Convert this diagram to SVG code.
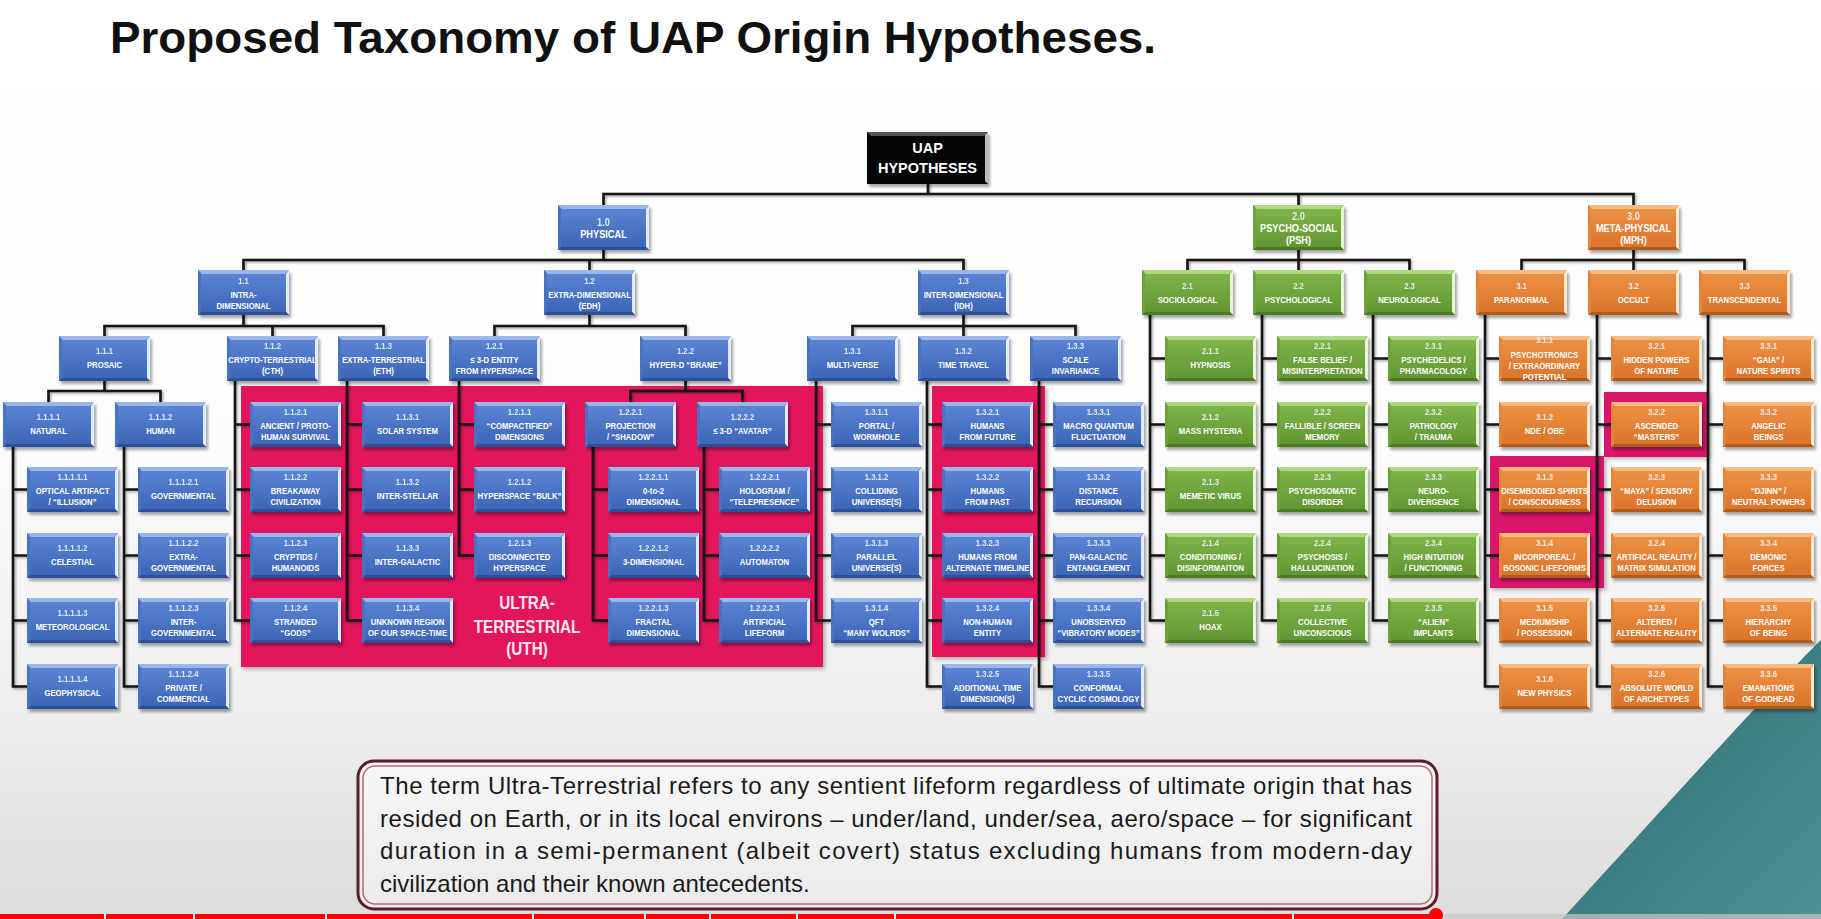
<svg xmlns="http://www.w3.org/2000/svg" xmlns:xlink="http://www.w3.org/1999/xlink" width="1821" height="919" viewBox="0 0 1821 919">
<defs>
<style>
.t{font-family:"Liberation Sans",Arial,sans-serif;font-weight:bold;font-size:9.2px;fill:#fff;text-anchor:middle}
.big{font-size:11px}
.k{fill:#f2f6ff;opacity:.88}
.wire{fill:none;stroke:#121212;stroke-width:2.6;stroke-linecap:square}
.pink{fill:#e3175d}
.pink2{fill:#d8166c}
.body{font-family:"Liberation Sans",Arial,sans-serif;font-size:24px;fill:#1a1a1a}
</style>
<linearGradient id="bgG" x1="0" y1="0" x2="0" y2="1">
<stop offset="0" stop-color="#ffffff"/><stop offset=".5" stop-color="#fcfcfc"/><stop offset=".8" stop-color="#ececec"/><stop offset="1" stop-color="#dcdcdc"/>
</linearGradient>
<linearGradient id="gBlue" x1="0" y1="0" x2="0" y2="1"><stop offset="0" stop-color="#5d87d6"/><stop offset="1" stop-color="#3b63b6"/></linearGradient>
<linearGradient id="gGreen" x1="0" y1="0" x2="0" y2="1"><stop offset="0" stop-color="#82b74c"/><stop offset="1" stop-color="#5e9430"/></linearGradient>
<linearGradient id="gOrange" x1="0" y1="0" x2="0" y2="1"><stop offset="0" stop-color="#ee9446"/><stop offset="1" stop-color="#da722a"/></linearGradient>
<linearGradient id="gTeal" x1="0" y1="0" x2="1" y2="1"><stop offset="0" stop-color="#2b6a73"/><stop offset="1" stop-color="#4f9197"/></linearGradient>
<linearGradient id="gNote" x1="0" y1="0" x2="0" y2="1"><stop offset="0" stop-color="#f7f7f7"/><stop offset="1" stop-color="#ebebeb"/></linearGradient>
<filter id="sh" x="-20%" y="-20%" width="140%" height="150%"><feGaussianBlur stdDeviation="1.5"/></filter>
<filter id="ds" x="-5%" y="-5%" width="110%" height="110%"><feDropShadow dx="1.5" dy="1.5" stdDeviation="1" flood-color="#000" flood-opacity=".35"/></filter>
<filter id="ds2" x="-5%" y="-5%" width="110%" height="110%"><feDropShadow dx="2" dy="2" stdDeviation="2" flood-color="#000" flood-opacity=".3"/></filter>
<!-- bevelled box faces, 91 x 45 -->
<g id="bb">
<rect x="2" y="3" width="91" height="45" fill="#000" opacity=".35" filter="url(#sh)"/>
<rect width="91" height="45" fill="url(#gBlue)"/>
<path d="M0 0H91L87 4H4Z" fill="#a4bff0" opacity=".85"/>
<path d="M91 0V45L88 42V4Z" fill="#e2ecfd"/>
<path d="M0 45H91L88 42H3Z" fill="#2d4f98"/>
<path d="M0 0V45L3 42V4Z" fill="#4a72c2"/>
</g>
<g id="bg">
<rect x="2" y="3" width="91" height="45" fill="#000" opacity=".35" filter="url(#sh)"/>
<rect width="91" height="45" fill="url(#gGreen)"/>
<path d="M0 0H91L87 4H4Z" fill="#b5da8a" opacity=".9"/>
<path d="M91 0V45L88 42V4Z" fill="#e8f6d4"/>
<path d="M0 45H91L88 42H3Z" fill="#4a7a22"/>
<path d="M0 0V45L3 42V4Z" fill="#6da23a"/>
</g>
<g id="bo">
<rect x="2" y="3" width="91" height="45" fill="#000" opacity=".35" filter="url(#sh)"/>
<rect width="91" height="45" fill="url(#gOrange)"/>
<path d="M0 0H91L87 4H4Z" fill="#f8c08a" opacity=".9"/>
<path d="M91 0V45L88 42V4Z" fill="#fde8cc"/>
<path d="M0 45H91L88 42H3Z" fill="#b05a1c"/>
<path d="M0 0V45L3 42V4Z" fill="#e3843a"/>
</g>
</defs>

<!-- page -->
<rect width="1821" height="919" fill="url(#bgG)"/>
<path d="M1821 640C1770 690 1680 790 1562 919H1821Z" fill="url(#gTeal)"/>

<text x="110" y="53" textLength="1046" lengthAdjust="spacingAndGlyphs" style="font-family:'Liberation Sans',Arial,sans-serif;font-weight:bold;font-size:44px;fill:#111">Proposed Taxonomy of UAP Origin Hypotheses.</text>

<!-- highlighted groupings -->
<g id="groups" filter="url(#ds2)">
<rect class="pink" x="241" y="386" width="582" height="281"/>
<rect class="pink" x="932" y="386" width="113" height="271"/>
<rect class="pink2" x="1604" y="392" width="104" height="65"/>
<rect class="pink2" x="1490" y="456" width="114" height="132"/>
</g>
<text transform="translate(527,0) scale(.87,1)" style="font-family:'Liberation Sans',Arial,sans-serif;font-weight:bold;font-size:17.5px;fill:#fde6ee;text-anchor:middle"><tspan x="0" y="609.5">ULTRA-</tspan><tspan x="0" y="633.5">TERRESTRIAL</tspan><tspan x="0" y="655.5">(UTH)</tspan></text>

<!-- connectors -->
<g id="connectors" filter="url(#ds)">
<path class="wire" d="M928 184V194M603.5 194H1633.5M603.5 194V205M1298.5 194V205M1633.5 194V205
M603.5 250V260M243.5 260H963.5M243.5 260V270M589.5 260V270M963.5 260V270
M1298.5 250V260M1187.5 260H1409.5M1187.5 260V270M1298.5 260V270M1409.5 260V270
M1633.5 250V260M1521.5 260H1744.5M1521.5 260V270M1633.5 260V270M1744.5 260V270
M243.5 315V326M104.5 326H383.5M104.5 326V336M272.5 326V336M383.5 326V336
M589.5 315V326M494.5 326H685.5M494.5 326V336M685.5 326V336
M963.5 315V326M852.5 326H1075.5M852.5 326V336M963.5 326V336M1075.5 326V336
M104.5 381V391M48.5 391H160.5M48.5 391V402M160.5 391V402
M685.5 381V391M630.5 391H742.5M630.5 391V402M742.5 391V402"/>
<path class="wire" d="M13 447V686.5M13 489.5H27M13 555.5H27M13 620.5H27M13 686.5H27
M124 447V686.5M124 489.5H138M124 555.5H138M124 620.5H138M124 686.5H138
M235 381V620.5M235 424.5H250M235 489.5H250M235 555.5H250M235 620.5H250
M347 381V620.5M347 424.5H362M347 489.5H362M347 555.5H362M347 620.5H362
M459 381V555.5M459 424.5H474M459 489.5H474M459 555.5H474
M593 447V620.5M593 489.5H608M593 555.5H608M593 620.5H608
M704 447V620.5M704 489.5H719M704 555.5H719M704 620.5H719
M816 381V620.5M816 424.5H831M816 489.5H831M816 555.5H831M816 620.5H831
M927 381V686.5M927 424.5H942M927 489.5H942M927 555.5H942M927 620.5H942M927 686.5H942
M1039 381V686.5M1039 424.5H1053M1039 489.5H1053M1039 555.5H1053M1039 620.5H1053M1039 686.5H1053
M1150 315V620.5M1150 358.5H1165M1150 424.5H1165M1150 489.5H1165M1150 555.5H1165M1150 620.5H1165
M1262 315V620.5M1262 358.5H1277M1262 424.5H1277M1262 489.5H1277M1262 555.5H1277M1262 620.5H1277
M1373 315V620.5M1373 358.5H1388M1373 424.5H1388M1373 489.5H1388M1373 555.5H1388M1373 620.5H1388
M1485 315V686.5M1485 358.5H1499M1485 424.5H1499M1485 489.5H1499M1485 555.5H1499M1485 620.5H1499M1485 686.5H1499
M1597 315V686.5M1597 358.5H1611M1597 424.5H1611M1597 489.5H1611M1597 555.5H1611M1597 620.5H1611M1597 686.5H1611
M1708 315V686.5M1708 358.5H1723M1708 424.5H1723M1708 489.5H1723M1708 555.5H1723M1708 620.5H1723M1708 686.5H1723"/>
</g>

<!-- root -->
<g id="uap">
<rect x="869" y="135" width="121" height="52" fill="#000" opacity=".35" filter="url(#sh)"/>
<rect x="867" y="132" width="121" height="52" fill="#050505"/>
<path d="M867 132H988L984 136H871Z" fill="#555"/>
<path d="M988 132V184L985 181V135Z" fill="#bbb"/>
<text x="927.5" y="153" style="font-family:'Liberation Sans',Arial,sans-serif;font-weight:bold;font-size:14.5px;fill:#fff;text-anchor:middle">UAP</text>
<text x="927.5" y="173" style="font-family:'Liberation Sans',Arial,sans-serif;font-weight:bold;font-size:14.5px;fill:#fff;text-anchor:middle">HYPOTHESES</text>
</g>

<!-- level 1 -->
<g id="n1"><use href="#bb" x="558" y="205"/><text class="t big" transform="translate(603.5,205) scale(.84,1)"><tspan class="k" x="0" y="21">1.0</tspan><tspan x="0" y="33">PHYSICAL</tspan></text></g>
<g id="n2"><use href="#bg" x="1253" y="205"/><text class="t big" transform="translate(1298.5,205) scale(.84,1)"><tspan class="k" x="0" y="15">2.0</tspan><tspan x="0" y="27">PSYCHO-SOCIAL</tspan><tspan x="0" y="39">(PSH)</tspan></text></g>
<g id="n3"><use href="#bo" x="1588" y="205"/><text class="t big" transform="translate(1633.5,205) scale(.84,1)"><tspan class="k" x="0" y="15">3.0</tspan><tspan x="0" y="27">META-PHYSICAL</tspan><tspan x="0" y="39">(MPH)</tspan></text></g>

<!-- level 2 -->
<g id="n1-1"><use href="#bb" x="198" y="270"/><text class="t" transform="translate(243.5,270) scale(.84,1)"><tspan class="k" x="0" y="14">1.1</tspan><tspan x="0" y="28">INTRA-</tspan><tspan x="0" y="39">DIMENSIONAL</tspan></text></g>
<g id="n1-2"><use href="#bb" x="544" y="270"/><text class="t" transform="translate(589.5,270) scale(.84,1)"><tspan class="k" x="0" y="14">1.2</tspan><tspan x="0" y="28">EXTRA-DIMENSIONAL</tspan><tspan x="0" y="39">(EDH)</tspan></text></g>
<g id="n1-3"><use href="#bb" x="918" y="270"/><text class="t" transform="translate(963.5,270) scale(.84,1)"><tspan class="k" x="0" y="14">1.3</tspan><tspan x="0" y="28">INTER-DIMENSIONAL</tspan><tspan x="0" y="39">(IDH)</tspan></text></g>
<g id="n2-1"><use href="#bg" x="1142" y="270"/><text class="t" transform="translate(1187.5,270) scale(.84,1)"><tspan class="k" x="0" y="19">2.1</tspan><tspan x="0" y="33">SOCIOLOGICAL</tspan></text></g>
<g id="n2-2"><use href="#bg" x="1253" y="270"/><text class="t" transform="translate(1298.5,270) scale(.84,1)"><tspan class="k" x="0" y="19">2.2</tspan><tspan x="0" y="33">PSYCHOLOGICAL</tspan></text></g>
<g id="n2-3"><use href="#bg" x="1364" y="270"/><text class="t" transform="translate(1409.5,270) scale(.84,1)"><tspan class="k" x="0" y="19">2.3</tspan><tspan x="0" y="33">NEUROLOGICAL</tspan></text></g>
<g id="n3-1"><use href="#bo" x="1476" y="270"/><text class="t" transform="translate(1521.5,270) scale(.84,1)"><tspan class="k" x="0" y="19">3.1</tspan><tspan x="0" y="33">PARANORMAL</tspan></text></g>
<g id="n3-2"><use href="#bo" x="1588" y="270"/><text class="t" transform="translate(1633.5,270) scale(.84,1)"><tspan class="k" x="0" y="19">3.2</tspan><tspan x="0" y="33">OCCULT</tspan></text></g>
<g id="n3-3"><use href="#bo" x="1699" y="270"/><text class="t" transform="translate(1744.5,270) scale(.84,1)"><tspan class="k" x="0" y="19">3.3</tspan><tspan x="0" y="33">TRANSCENDENTAL</tspan></text></g>

<!-- level 3 -->
<g id="n1-1-1"><use href="#bb" x="59" y="336"/><text class="t" transform="translate(104.5,336) scale(.84,1)"><tspan class="k" x="0" y="18.3">1.1.1</tspan><tspan x="0" y="32.3">PROSAIC</tspan></text></g>
<g id="n1-1-2"><use href="#bb" x="227" y="336"/><text class="t" transform="translate(272.5,336) scale(.84,1)"><tspan class="k" x="0" y="13">1.1.2</tspan><tspan x="0" y="27.5">CRYPTO-TERRESTRIAL</tspan><tspan x="0" y="38.5">(CTH)</tspan></text></g>
<g id="n1-1-3"><use href="#bb" x="338" y="336"/><text class="t" transform="translate(383.5,336) scale(.84,1)"><tspan class="k" x="0" y="13">1.1.3</tspan><tspan x="0" y="27.5">EXTRA-TERRESTRIAL</tspan><tspan x="0" y="38.5">(ETH)</tspan></text></g>
<g id="n1-2-1"><use href="#bb" x="449" y="336"/><text class="t" transform="translate(494.5,336) scale(.84,1)"><tspan class="k" x="0" y="13">1.2.1</tspan><tspan x="0" y="27.5">≤ 3-D ENTITY</tspan><tspan x="0" y="38.5">FROM HYPERSPACE</tspan></text></g>
<g id="n1-2-2"><use href="#bb" x="640" y="336"/><text class="t" transform="translate(685.5,336) scale(.84,1)"><tspan class="k" x="0" y="18.3">1.2.2</tspan><tspan x="0" y="32.3">HYPER-D “BRANE”</tspan></text></g>
<g id="n1-3-1"><use href="#bb" x="807" y="336"/><text class="t" transform="translate(852.5,336) scale(.84,1)"><tspan class="k" x="0" y="18.3">1.3.1</tspan><tspan x="0" y="32.3">MULTI-VERSE</tspan></text></g>
<g id="n1-3-2"><use href="#bb" x="918" y="336"/><text class="t" transform="translate(963.5,336) scale(.84,1)"><tspan class="k" x="0" y="18.3">1.3.2</tspan><tspan x="0" y="32.3">TIME TRAVEL</tspan></text></g>
<g id="n1-3-3"><use href="#bb" x="1030" y="336"/><text class="t" transform="translate(1075.5,336) scale(.84,1)"><tspan class="k" x="0" y="13">1.3.3</tspan><tspan x="0" y="27.5">SCALE</tspan><tspan x="0" y="38.5">INVARIANCE</tspan></text></g>
<g id="n2-1-1"><use href="#bg" x="1165" y="336"/><text class="t" transform="translate(1210.5,336) scale(.84,1)"><tspan class="k" x="0" y="18.3">2.1.1</tspan><tspan x="0" y="32.3">HYPNOSIS</tspan></text></g>
<g id="n2-2-1"><use href="#bg" x="1277" y="336"/><text class="t" transform="translate(1322.5,336) scale(.84,1)"><tspan class="k" x="0" y="13">2.2.1</tspan><tspan x="0" y="27.5">FALSE BELIEF /</tspan><tspan x="0" y="38.5">MISINTERPRETATION</tspan></text></g>
<g id="n2-3-1"><use href="#bg" x="1388" y="336"/><text class="t" transform="translate(1433.5,336) scale(.84,1)"><tspan class="k" x="0" y="13">2.3.1</tspan><tspan x="0" y="27.5">PSYCHEDELICS /</tspan><tspan x="0" y="38.5">PHARMACOLOGY</tspan></text></g>
<g id="n3-1-1"><use href="#bo" x="1499" y="336"/><text class="t" transform="translate(1544.5,336) scale(.84,1)"><tspan class="k" x="0" y="7.3">3.1.1</tspan><tspan x="0" y="22.5">PSYCHOTRONICS</tspan><tspan x="0" y="33.5">/ EXTRAORDINARY</tspan><tspan x="0" y="44">POTENTIAL</tspan></text></g>
<g id="n3-2-1"><use href="#bo" x="1611" y="336"/><text class="t" transform="translate(1656.5,336) scale(.84,1)"><tspan class="k" x="0" y="13">3.2.1</tspan><tspan x="0" y="27.5">HIDDEN POWERS</tspan><tspan x="0" y="38.5">OF NATURE</tspan></text></g>
<g id="n3-3-1"><use href="#bo" x="1723" y="336"/><text class="t" transform="translate(1768.5,336) scale(.84,1)"><tspan class="k" x="0" y="13">3.3.1</tspan><tspan x="0" y="27.5">“GAIA” /</tspan><tspan x="0" y="38.5">NATURE SPIRITS</tspan></text></g>

<!-- level 4 -->
<g id="n1-1-1-1"><use href="#bb" x="3" y="402"/><text class="t" transform="translate(48.5,402) scale(.84,1)"><tspan class="k" x="0" y="18.3">1.1.1.1</tspan><tspan x="0" y="32.3">NATURAL</tspan></text></g>
<g id="n1-1-1-2"><use href="#bb" x="115" y="402"/><text class="t" transform="translate(160.5,402) scale(.84,1)"><tspan class="k" x="0" y="18.3">1.1.1.2</tspan><tspan x="0" y="32.3">HUMAN</tspan></text></g>
<g id="n1-1-2-1"><use href="#bb" x="250" y="402"/><text class="t" transform="translate(295.5,402) scale(.84,1)"><tspan class="k" x="0" y="13">1.1.2.1</tspan><tspan x="0" y="27.5">ANCIENT / PROTO-</tspan><tspan x="0" y="38.5">HUMAN SURVIVAL</tspan></text></g>
<g id="n1-1-3-1"><use href="#bb" x="362" y="402"/><text class="t" transform="translate(407.5,402) scale(.84,1)"><tspan class="k" x="0" y="18.3">1.1.3.1</tspan><tspan x="0" y="32.3">SOLAR SYSTEM</tspan></text></g>
<g id="n1-2-1-1"><use href="#bb" x="474" y="402"/><text class="t" transform="translate(519.5,402) scale(.84,1)"><tspan class="k" x="0" y="13">1.2.1.1</tspan><tspan x="0" y="27.5">“COMPACTIFIED”</tspan><tspan x="0" y="38.5">DIMENSIONS</tspan></text></g>
<g id="n1-2-2-1"><use href="#bb" x="585" y="402"/><text class="t" transform="translate(630.5,402) scale(.84,1)"><tspan class="k" x="0" y="13">1.2.2.1</tspan><tspan x="0" y="27.5">PROJECTION</tspan><tspan x="0" y="38.5">/ “SHADOW”</tspan></text></g>
<g id="n1-2-2-2"><use href="#bb" x="697" y="402"/><text class="t" transform="translate(742.5,402) scale(.84,1)"><tspan class="k" x="0" y="18.3">1.2.2.2</tspan><tspan x="0" y="32.3">≤ 3-D “AVATAR”</tspan></text></g>
<g id="n1-3-1-1"><use href="#bb" x="831" y="402"/><text class="t" transform="translate(876.5,402) scale(.84,1)"><tspan class="k" x="0" y="13">1.3.1.1</tspan><tspan x="0" y="27.5">PORTAL /</tspan><tspan x="0" y="38.5">WORMHOLE</tspan></text></g>
<g id="n1-3-2-1"><use href="#bb" x="942" y="402"/><text class="t" transform="translate(987.5,402) scale(.84,1)"><tspan class="k" x="0" y="13">1.3.2.1</tspan><tspan x="0" y="27.5">HUMANS</tspan><tspan x="0" y="38.5">FROM FUTURE</tspan></text></g>
<g id="n1-3-3-1"><use href="#bb" x="1053" y="402"/><text class="t" transform="translate(1098.5,402) scale(.84,1)"><tspan class="k" x="0" y="13">1.3.3.1</tspan><tspan x="0" y="27.5">MACRO QUANTUM</tspan><tspan x="0" y="38.5">FLUCTUATION</tspan></text></g>
<g id="n2-1-2"><use href="#bg" x="1165" y="402"/><text class="t" transform="translate(1210.5,402) scale(.84,1)"><tspan class="k" x="0" y="18.3">2.1.2</tspan><tspan x="0" y="32.3">MASS HYSTERIA</tspan></text></g>
<g id="n2-2-2"><use href="#bg" x="1277" y="402"/><text class="t" transform="translate(1322.5,402) scale(.84,1)"><tspan class="k" x="0" y="13">2.2.2</tspan><tspan x="0" y="27.5">FALLIBLE / SCREEN</tspan><tspan x="0" y="38.5">MEMORY</tspan></text></g>
<g id="n2-3-2"><use href="#bg" x="1388" y="402"/><text class="t" transform="translate(1433.5,402) scale(.84,1)"><tspan class="k" x="0" y="13">2.3.2</tspan><tspan x="0" y="27.5">PATHOLOGY</tspan><tspan x="0" y="38.5">/ TRAUMA</tspan></text></g>
<g id="n3-1-2"><use href="#bo" x="1499" y="402"/><text class="t" transform="translate(1544.5,402) scale(.84,1)"><tspan class="k" x="0" y="18.3">3.1.2</tspan><tspan x="0" y="32.3">NDE / OBE</tspan></text></g>
<g id="n3-2-2"><use href="#bo" x="1611" y="402"/><text class="t" transform="translate(1656.5,402) scale(.84,1)"><tspan class="k" x="0" y="13">3.2.2</tspan><tspan x="0" y="27.5">ASCENDED</tspan><tspan x="0" y="38.5">“MASTERS”</tspan></text></g>
<g id="n3-3-2"><use href="#bo" x="1723" y="402"/><text class="t" transform="translate(1768.5,402) scale(.84,1)"><tspan class="k" x="0" y="13">3.3.2</tspan><tspan x="0" y="27.5">ANGELIC</tspan><tspan x="0" y="38.5">BEINGS</tspan></text></g>

<!-- level 5 row -->
<g id="n1-1-1-1-1"><use href="#bb" x="27" y="467"/><text class="t" transform="translate(72.5,467) scale(.84,1)"><tspan class="k" x="0" y="13">1.1.1.1.1</tspan><tspan x="0" y="27.5">OPTICAL ARTIFACT</tspan><tspan x="0" y="38.5">/ “ILLUSION”</tspan></text></g>
<g id="n1-1-1-2-1"><use href="#bb" x="138" y="467"/><text class="t" transform="translate(183.5,467) scale(.84,1)"><tspan class="k" x="0" y="18.3">1.1.1.2.1</tspan><tspan x="0" y="32.3">GOVERNMENTAL</tspan></text></g>
<g id="n1-1-2-2"><use href="#bb" x="250" y="467"/><text class="t" transform="translate(295.5,467) scale(.84,1)"><tspan class="k" x="0" y="13">1.1.2.2</tspan><tspan x="0" y="27.5">BREAKAWAY</tspan><tspan x="0" y="38.5">CIVILIZATION</tspan></text></g>
<g id="n1-1-3-2"><use href="#bb" x="362" y="467"/><text class="t" transform="translate(407.5,467) scale(.84,1)"><tspan class="k" x="0" y="18.3">1.1.3.2</tspan><tspan x="0" y="32.3">INTER-STELLAR</tspan></text></g>
<g id="n1-2-1-2"><use href="#bb" x="474" y="467"/><text class="t" transform="translate(519.5,467) scale(.84,1)"><tspan class="k" x="0" y="18.3">1.2.1.2</tspan><tspan x="0" y="32.3">HYPERSPACE “BULK”</tspan></text></g>
<g id="n1-2-2-1-1"><use href="#bb" x="608" y="467"/><text class="t" transform="translate(653.5,467) scale(.84,1)"><tspan class="k" x="0" y="13">1.2.2.1.1</tspan><tspan x="0" y="27.5">0-to-2</tspan><tspan x="0" y="38.5">DIMENSIONAL</tspan></text></g>
<g id="n1-2-2-2-1"><use href="#bb" x="719" y="467"/><text class="t" transform="translate(764.5,467) scale(.84,1)"><tspan class="k" x="0" y="13">1.2.2.2.1</tspan><tspan x="0" y="27.5">HOLOGRAM /</tspan><tspan x="0" y="38.5">“TELEPRESENCE”</tspan></text></g>
<g id="n1-3-1-2"><use href="#bb" x="831" y="467"/><text class="t" transform="translate(876.5,467) scale(.84,1)"><tspan class="k" x="0" y="13">1.3.1.2</tspan><tspan x="0" y="27.5">COLLIDING</tspan><tspan x="0" y="38.5">UNIVERSE(S)</tspan></text></g>
<g id="n1-3-2-2"><use href="#bb" x="942" y="467"/><text class="t" transform="translate(987.5,467) scale(.84,1)"><tspan class="k" x="0" y="13">1.3.2.2</tspan><tspan x="0" y="27.5">HUMANS</tspan><tspan x="0" y="38.5">FROM PAST</tspan></text></g>
<g id="n1-3-3-2"><use href="#bb" x="1053" y="467"/><text class="t" transform="translate(1098.5,467) scale(.84,1)"><tspan class="k" x="0" y="13">1.3.3.2</tspan><tspan x="0" y="27.5">DISTANCE</tspan><tspan x="0" y="38.5">RECURSION</tspan></text></g>
<g id="n2-1-3"><use href="#bg" x="1165" y="467"/><text class="t" transform="translate(1210.5,467) scale(.84,1)"><tspan class="k" x="0" y="18.3">2.1.3</tspan><tspan x="0" y="32.3">MEMETIC VIRUS</tspan></text></g>
<g id="n2-2-3"><use href="#bg" x="1277" y="467"/><text class="t" transform="translate(1322.5,467) scale(.84,1)"><tspan class="k" x="0" y="13">2.2.3</tspan><tspan x="0" y="27.5">PSYCHOSOMATIC</tspan><tspan x="0" y="38.5">DISORDER</tspan></text></g>
<g id="n2-3-3"><use href="#bg" x="1388" y="467"/><text class="t" transform="translate(1433.5,467) scale(.84,1)"><tspan class="k" x="0" y="13">2.3.3</tspan><tspan x="0" y="27.5">NEURO-</tspan><tspan x="0" y="38.5">DIVERGENCE</tspan></text></g>
<g id="n3-1-3"><use href="#bo" x="1499" y="467"/><text class="t" transform="translate(1544.5,467) scale(.84,1)"><tspan class="k" x="0" y="13">3.1.3</tspan><tspan x="0" y="27.5">DISEMBODIED SPIRITS</tspan><tspan x="0" y="38.5">/ CONSCIOUSNESS</tspan></text></g>
<g id="n3-2-3"><use href="#bo" x="1611" y="467"/><text class="t" transform="translate(1656.5,467) scale(.84,1)"><tspan class="k" x="0" y="13">3.2.3</tspan><tspan x="0" y="27.5">“MAYA” / SENSORY</tspan><tspan x="0" y="38.5">DELUSION</tspan></text></g>
<g id="n3-3-3"><use href="#bo" x="1723" y="467"/><text class="t" transform="translate(1768.5,467) scale(.84,1)"><tspan class="k" x="0" y="13">3.3.3</tspan><tspan x="0" y="27.5">“DJINN” /</tspan><tspan x="0" y="38.5">NEUTRAL POWERS</tspan></text></g>

<!-- level 6 row -->
<g id="n1-1-1-1-2"><use href="#bb" x="27" y="533"/><text class="t" transform="translate(72.5,533) scale(.84,1)"><tspan class="k" x="0" y="18.3">1.1.1.1.2</tspan><tspan x="0" y="32.3">CELESTIAL</tspan></text></g>
<g id="n1-1-1-2-2"><use href="#bb" x="138" y="533"/><text class="t" transform="translate(183.5,533) scale(.84,1)"><tspan class="k" x="0" y="13">1.1.1.2.2</tspan><tspan x="0" y="27.5">EXTRA-</tspan><tspan x="0" y="38.5">GOVERNMENTAL</tspan></text></g>
<g id="n1-1-2-3"><use href="#bb" x="250" y="533"/><text class="t" transform="translate(295.5,533) scale(.84,1)"><tspan class="k" x="0" y="13">1.1.2.3</tspan><tspan x="0" y="27.5">CRYPTIDS /</tspan><tspan x="0" y="38.5">HUMANOIDS</tspan></text></g>
<g id="n1-1-3-3"><use href="#bb" x="362" y="533"/><text class="t" transform="translate(407.5,533) scale(.84,1)"><tspan class="k" x="0" y="18.3">1.1.3.3</tspan><tspan x="0" y="32.3">INTER-GALACTIC</tspan></text></g>
<g id="n1-2-1-3"><use href="#bb" x="474" y="533"/><text class="t" transform="translate(519.5,533) scale(.84,1)"><tspan class="k" x="0" y="13">1.2.1.3</tspan><tspan x="0" y="27.5">DISCONNECTED</tspan><tspan x="0" y="38.5">HYPERSPACE</tspan></text></g>
<g id="n1-2-2-1-2"><use href="#bb" x="608" y="533"/><text class="t" transform="translate(653.5,533) scale(.84,1)"><tspan class="k" x="0" y="18.3">1.2.2.1.2</tspan><tspan x="0" y="32.3">3-DIMENSIONAL</tspan></text></g>
<g id="n1-2-2-2-2"><use href="#bb" x="719" y="533"/><text class="t" transform="translate(764.5,533) scale(.84,1)"><tspan class="k" x="0" y="18.3">1.2.2.2.2</tspan><tspan x="0" y="32.3">AUTOMATON</tspan></text></g>
<g id="n1-3-1-3"><use href="#bb" x="831" y="533"/><text class="t" transform="translate(876.5,533) scale(.84,1)"><tspan class="k" x="0" y="13">1.3.1.3</tspan><tspan x="0" y="27.5">PARALLEL</tspan><tspan x="0" y="38.5">UNIVERSE(S)</tspan></text></g>
<g id="n1-3-2-3"><use href="#bb" x="942" y="533"/><text class="t" transform="translate(987.5,533) scale(.84,1)"><tspan class="k" x="0" y="13">1.3.2.3</tspan><tspan x="0" y="27.5">HUMANS FROM</tspan><tspan x="0" y="38.5">ALTERNATE TIMELINE</tspan></text></g>
<g id="n1-3-3-3"><use href="#bb" x="1053" y="533"/><text class="t" transform="translate(1098.5,533) scale(.84,1)"><tspan class="k" x="0" y="13">1.3.3.3</tspan><tspan x="0" y="27.5">PAN-GALACTIC</tspan><tspan x="0" y="38.5">ENTANGLEMENT</tspan></text></g>
<g id="n2-1-4"><use href="#bg" x="1165" y="533"/><text class="t" transform="translate(1210.5,533) scale(.84,1)"><tspan class="k" x="0" y="13">2.1.4</tspan><tspan x="0" y="27.5">CONDITIONING /</tspan><tspan x="0" y="38.5">DISINFORMAITON</tspan></text></g>
<g id="n2-2-4"><use href="#bg" x="1277" y="533"/><text class="t" transform="translate(1322.5,533) scale(.84,1)"><tspan class="k" x="0" y="13">2.2.4</tspan><tspan x="0" y="27.5">PSYCHOSIS /</tspan><tspan x="0" y="38.5">HALLUCINATION</tspan></text></g>
<g id="n2-3-4"><use href="#bg" x="1388" y="533"/><text class="t" transform="translate(1433.5,533) scale(.84,1)"><tspan class="k" x="0" y="13">2.3.4</tspan><tspan x="0" y="27.5">HIGH INTUITION</tspan><tspan x="0" y="38.5">/ FUNCTIONING</tspan></text></g>
<g id="n3-1-4"><use href="#bo" x="1499" y="533"/><text class="t" transform="translate(1544.5,533) scale(.84,1)"><tspan class="k" x="0" y="13">3.1.4</tspan><tspan x="0" y="27.5">INCORPOREAL /</tspan><tspan x="0" y="38.5">BOSONIC LIFEFORMS</tspan></text></g>
<g id="n3-2-4"><use href="#bo" x="1611" y="533"/><text class="t" transform="translate(1656.5,533) scale(.84,1)"><tspan class="k" x="0" y="13">3.2.4</tspan><tspan x="0" y="27.5">ARTIFICAL REALITY /</tspan><tspan x="0" y="38.5">MATRIX SIMULATION</tspan></text></g>
<g id="n3-3-4"><use href="#bo" x="1723" y="533"/><text class="t" transform="translate(1768.5,533) scale(.84,1)"><tspan class="k" x="0" y="13">3.3.4</tspan><tspan x="0" y="27.5">DEMONIC</tspan><tspan x="0" y="38.5">FORCES</tspan></text></g>

<!-- level 7 row -->
<g id="n1-1-1-1-3"><use href="#bb" x="27" y="598"/><text class="t" transform="translate(72.5,598) scale(.84,1)"><tspan class="k" x="0" y="18.3">1.1.1.1.3</tspan><tspan x="0" y="32.3">METEOROLOGICAL</tspan></text></g>
<g id="n1-1-1-2-3"><use href="#bb" x="138" y="598"/><text class="t" transform="translate(183.5,598) scale(.84,1)"><tspan class="k" x="0" y="13">1.1.1.2.3</tspan><tspan x="0" y="27.5">INTER-</tspan><tspan x="0" y="38.5">GOVERNMENTAL</tspan></text></g>
<g id="n1-1-2-4"><use href="#bb" x="250" y="598"/><text class="t" transform="translate(295.5,598) scale(.84,1)"><tspan class="k" x="0" y="13">1.1.2.4</tspan><tspan x="0" y="27.5">STRANDED</tspan><tspan x="0" y="38.5">“GODS”</tspan></text></g>
<g id="n1-1-3-4"><use href="#bb" x="362" y="598"/><text class="t" transform="translate(407.5,598) scale(.84,1)"><tspan class="k" x="0" y="13">1.1.3.4</tspan><tspan x="0" y="27.5">UNKNOWN REGION</tspan><tspan x="0" y="38.5">OF OUR SPACE-TIME</tspan></text></g>
<g id="n1-2-2-1-3"><use href="#bb" x="608" y="598"/><text class="t" transform="translate(653.5,598) scale(.84,1)"><tspan class="k" x="0" y="13">1.2.2.1.3</tspan><tspan x="0" y="27.5">FRACTAL</tspan><tspan x="0" y="38.5">DIMENSIONAL</tspan></text></g>
<g id="n1-2-2-2-3"><use href="#bb" x="719" y="598"/><text class="t" transform="translate(764.5,598) scale(.84,1)"><tspan class="k" x="0" y="13">1.2.2.2.3</tspan><tspan x="0" y="27.5">ARTIFICIAL</tspan><tspan x="0" y="38.5">LIFEFORM</tspan></text></g>
<g id="n1-3-1-4"><use href="#bb" x="831" y="598"/><text class="t" transform="translate(876.5,598) scale(.84,1)"><tspan class="k" x="0" y="13">1.3.1.4</tspan><tspan x="0" y="27.5">QFT</tspan><tspan x="0" y="38.5">“MANY WOLRDS”</tspan></text></g>
<g id="n1-3-2-4"><use href="#bb" x="942" y="598"/><text class="t" transform="translate(987.5,598) scale(.84,1)"><tspan class="k" x="0" y="13">1.3.2.4</tspan><tspan x="0" y="27.5">NON-HUMAN</tspan><tspan x="0" y="38.5">ENTITY</tspan></text></g>
<g id="n1-3-3-4"><use href="#bb" x="1053" y="598"/><text class="t" transform="translate(1098.5,598) scale(.84,1)"><tspan class="k" x="0" y="13">1.3.3.4</tspan><tspan x="0" y="27.5">UNOBSERVED</tspan><tspan x="0" y="38.5">“VIBRATORY MODES”</tspan></text></g>
<g id="n2-1-5"><use href="#bg" x="1165" y="598"/><text class="t" transform="translate(1210.5,598) scale(.84,1)"><tspan class="k" x="0" y="18.3">2.1.5</tspan><tspan x="0" y="32.3">HOAX</tspan></text></g>
<g id="n2-2-5"><use href="#bg" x="1277" y="598"/><text class="t" transform="translate(1322.5,598) scale(.84,1)"><tspan class="k" x="0" y="13">2.2.5</tspan><tspan x="0" y="27.5">COLLECTIVE</tspan><tspan x="0" y="38.5">UNCONSCIOUS</tspan></text></g>
<g id="n2-3-5"><use href="#bg" x="1388" y="598"/><text class="t" transform="translate(1433.5,598) scale(.84,1)"><tspan class="k" x="0" y="13">2.3.5</tspan><tspan x="0" y="27.5">“ALIEN”</tspan><tspan x="0" y="38.5">IMPLANTS</tspan></text></g>
<g id="n3-1-5"><use href="#bo" x="1499" y="598"/><text class="t" transform="translate(1544.5,598) scale(.84,1)"><tspan class="k" x="0" y="13">3.1.5</tspan><tspan x="0" y="27.5">MEDIUMSHIP</tspan><tspan x="0" y="38.5">/ POSSESSION</tspan></text></g>
<g id="n3-2-5"><use href="#bo" x="1611" y="598"/><text class="t" transform="translate(1656.5,598) scale(.84,1)"><tspan class="k" x="0" y="13">3.2.5</tspan><tspan x="0" y="27.5">ALTERED /</tspan><tspan x="0" y="38.5">ALTERNATE REALITY</tspan></text></g>
<g id="n3-3-5"><use href="#bo" x="1723" y="598"/><text class="t" transform="translate(1768.5,598) scale(.84,1)"><tspan class="k" x="0" y="13">3.3.5</tspan><tspan x="0" y="27.5">HIERARCHY</tspan><tspan x="0" y="38.5">OF BEING</tspan></text></g>

<!-- level 8 row -->
<g id="n1-1-1-1-4"><use href="#bb" x="27" y="664"/><text class="t" transform="translate(72.5,664) scale(.84,1)"><tspan class="k" x="0" y="18.3">1.1.1.1.4</tspan><tspan x="0" y="32.3">GEOPHYSICAL</tspan></text></g>
<g id="n1-1-1-2-4"><use href="#bb" x="138" y="664"/><text class="t" transform="translate(183.5,664) scale(.84,1)"><tspan class="k" x="0" y="13">1.1.1.2.4</tspan><tspan x="0" y="27.5">PRIVATE /</tspan><tspan x="0" y="38.5">COMMERCIAL</tspan></text></g>
<g id="n1-3-2-5"><use href="#bb" x="942" y="664"/><text class="t" transform="translate(987.5,664) scale(.84,1)"><tspan class="k" x="0" y="13">1.3.2.5</tspan><tspan x="0" y="27.5">ADDITIONAL TIME</tspan><tspan x="0" y="38.5">DIMENSION(S)</tspan></text></g>
<g id="n1-3-3-5"><use href="#bb" x="1053" y="664"/><text class="t" transform="translate(1098.5,664) scale(.84,1)"><tspan class="k" x="0" y="13">1.3.3.5</tspan><tspan x="0" y="27.5">CONFORMAL</tspan><tspan x="0" y="38.5">CYCLIC COSMOLOGY</tspan></text></g>
<g id="n3-1-6"><use href="#bo" x="1499" y="664"/><text class="t" transform="translate(1544.5,664) scale(.84,1)"><tspan class="k" x="0" y="18.3">3.1.6</tspan><tspan x="0" y="32.3">NEW PHYSICS</tspan></text></g>
<g id="n3-2-6"><use href="#bo" x="1611" y="664"/><text class="t" transform="translate(1656.5,664) scale(.84,1)"><tspan class="k" x="0" y="13">3.2.6</tspan><tspan x="0" y="27.5">ABSOLUTE WORLD</tspan><tspan x="0" y="38.5">OF ARCHETYPES</tspan></text></g>
<g id="n3-3-6"><use href="#bo" x="1723" y="664"/><text class="t" transform="translate(1768.5,664) scale(.84,1)"><tspan class="k" x="0" y="13">3.3.6</tspan><tspan x="0" y="27.5">EMANATIONS</tspan><tspan x="0" y="38.5">OF GODHEAD</tspan></text></g>

<!-- definition note -->
<g id="note">
<rect x="358" y="761" width="1079" height="148" rx="16" fill="url(#gNote)" stroke="#5e1c26" stroke-width="3"/>
<rect x="363" y="766" width="1069" height="138" rx="12" fill="none" stroke="#b46a76" stroke-width="1.5"/>
<text class="body" x="380" y="794" textLength="1032">The term Ultra-Terrestrial refers to any sentient lifeform regardless of ultimate origin that has</text>
<text class="body" x="380" y="827" textLength="1032">resided on Earth, or in its local environs – under/land, under/sea, aero/space – for significant</text>
<text class="body" x="380" y="859" textLength="1032">duration in a semi-permanent (albeit covert) status excluding humans from modern-day</text>
<text class="body" x="380" y="892">civilization and their known antecedents.</text>
</g>

<!-- playback bar -->
<rect x="0" y="914" width="1821" height="5" fill="#c8c8c8" opacity=".7"/>
<rect x="0" y="914" width="1436" height="5" fill="#f00"/>
<path d="M105 914v5M194 914v5M326 914v5M533 914v5M645 914v5M710 914v5M797 914v5M895 914v5M1293 914v5" stroke="#fff" stroke-width="2"/>
<circle cx="1436" cy="915" r="7" fill="#f00"/>
</svg>
